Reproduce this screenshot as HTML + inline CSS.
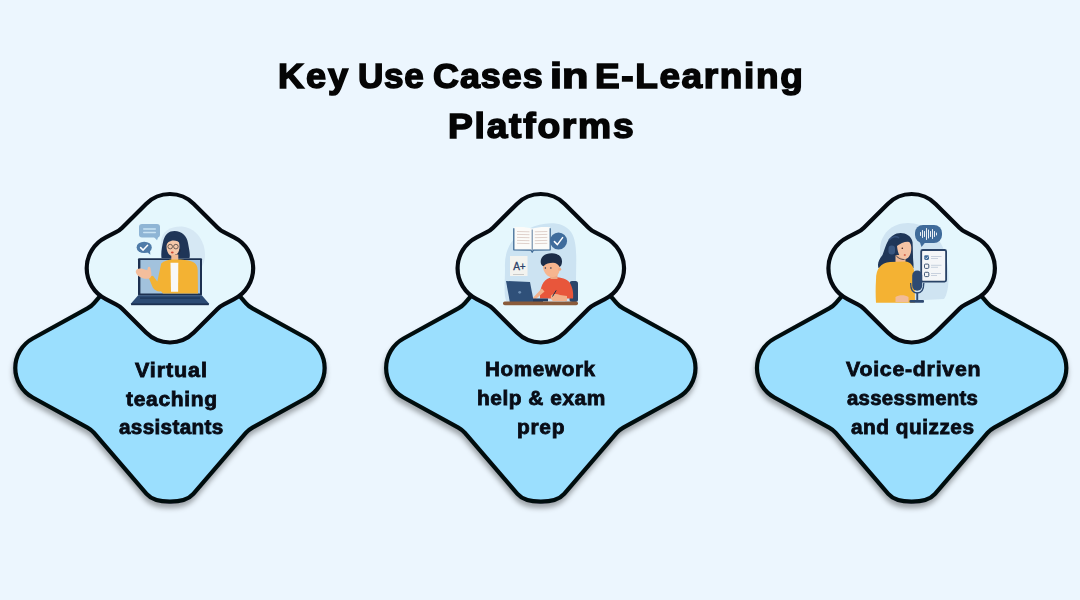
<!DOCTYPE html>
<html><head><meta charset="utf-8"><style>
html,body{margin:0;padding:0;}
body{width:1080px;height:600px;background:#ECF6FE;position:relative;overflow:hidden;font-family:"Liberation Sans",sans-serif;}
svg{position:absolute;left:0;top:0;}
.tx{position:absolute;font-weight:bold;line-height:1;white-space:nowrap;transform-origin:0 0;}
</style></head><body>
<svg width="1080" height="600" viewBox="0 0 1080 600">
<defs><filter id="sh" x="-20%" y="-20%" width="140%" height="150%"><feDropShadow dx="-0.5" dy="4.5" stdDeviation="2.6" flood-color="#000" flood-opacity="0.33"/></filter></defs>
<path d="M193.34,242.13 L245.82,303.01 A24.00,24.00 0 0 0 252.43,308.37 L307.17,338.47 A33.70,33.70 0 0 1 307.17,397.53 L252.43,427.63 A24.00,24.00 0 0 0 245.82,432.99 L193.34,493.87 C184.45,504.18 155.45,504.18 146.56,493.87 L94.08,432.99 A24.00,24.00 0 0 0 87.47,427.63 L32.73,397.53 A33.70,33.70 0 0 1 32.73,338.47 L87.47,308.37 A24.00,24.00 0 0 0 94.08,303.01 L146.56,242.13 C155.45,231.82 184.45,231.82 193.34,242.13 Z" fill="#9BDFFE" stroke="#050A10" stroke-width="4.2" filter="url(#sh)"/>
<path d="M193.85,203.90 L217.70,227.75 A24.00,24.00 0 0 0 223.93,232.24 L234.06,237.30 A34.60,34.60 0 0 1 234.06,299.20 L223.93,304.26 A24.00,24.00 0 0 0 217.70,308.75 L193.85,332.60 A33.80,33.80 0 0 1 146.05,332.60 L122.20,308.75 A24.00,24.00 0 0 0 115.97,304.26 L105.84,299.20 A34.60,34.60 0 0 1 105.84,237.30 L115.97,232.24 A24.00,24.00 0 0 0 122.20,227.75 L146.05,203.90 A33.80,33.80 0 0 1 193.85,203.90 Z" fill="#E5F7FD" stroke="#050A10" stroke-width="4.2"/>
<path d="M564.19,242.13 L616.67,303.01 A24.00,24.00 0 0 0 623.28,308.37 L678.02,338.47 A33.70,33.70 0 0 1 678.02,397.53 L623.28,427.63 A24.00,24.00 0 0 0 616.67,432.99 L564.19,493.87 C555.30,504.18 526.30,504.18 517.41,493.87 L464.93,432.99 A24.00,24.00 0 0 0 458.32,427.63 L403.58,397.53 A33.70,33.70 0 0 1 403.58,338.47 L458.32,308.37 A24.00,24.00 0 0 0 464.93,303.01 L517.41,242.13 C526.30,231.82 555.30,231.82 564.19,242.13 Z" fill="#9BDFFE" stroke="#050A10" stroke-width="4.2" filter="url(#sh)"/>
<path d="M564.70,203.90 L588.55,227.75 A24.00,24.00 0 0 0 594.78,232.24 L604.91,237.30 A34.60,34.60 0 0 1 604.91,299.20 L594.78,304.26 A24.00,24.00 0 0 0 588.55,308.75 L564.70,332.60 A33.80,33.80 0 0 1 516.90,332.60 L493.05,308.75 A24.00,24.00 0 0 0 486.82,304.26 L476.69,299.20 A34.60,34.60 0 0 1 476.69,237.30 L486.82,232.24 A24.00,24.00 0 0 0 493.05,227.75 L516.90,203.90 A33.80,33.80 0 0 1 564.70,203.90 Z" fill="#E5F7FD" stroke="#050A10" stroke-width="4.2"/>
<path d="M935.04,242.13 L987.52,303.01 A24.00,24.00 0 0 0 994.13,308.37 L1048.87,338.47 A33.70,33.70 0 0 1 1048.87,397.53 L994.13,427.63 A24.00,24.00 0 0 0 987.52,432.99 L935.04,493.87 C926.15,504.18 897.15,504.18 888.26,493.87 L835.78,432.99 A24.00,24.00 0 0 0 829.17,427.63 L774.43,397.53 A33.70,33.70 0 0 1 774.43,338.47 L829.17,308.37 A24.00,24.00 0 0 0 835.78,303.01 L888.26,242.13 C897.15,231.82 926.15,231.82 935.04,242.13 Z" fill="#9BDFFE" stroke="#050A10" stroke-width="4.2" filter="url(#sh)"/>
<path d="M935.55,203.90 L959.40,227.75 A24.00,24.00 0 0 0 965.63,232.24 L975.76,237.30 A34.60,34.60 0 0 1 975.76,299.20 L965.63,304.26 A24.00,24.00 0 0 0 959.40,308.75 L935.55,332.60 A33.80,33.80 0 0 1 887.75,332.60 L863.90,308.75 A24.00,24.00 0 0 0 857.67,304.26 L847.54,299.20 A34.60,34.60 0 0 1 847.54,237.30 L857.67,232.24 A24.00,24.00 0 0 0 863.90,227.75 L887.75,203.90 A33.80,33.80 0 0 1 935.55,203.90 Z" fill="#E5F7FD" stroke="#050A10" stroke-width="4.2"/>


<g id="ill1">
<path d="M161,241 C162,231 171,226 182,226.5 C193,227.5 200,235 203.5,245 C206.5,255 205,265 199,270 L168,270 C162,264 160,252 161,241Z" fill="#D6E8F4"/>
<rect x="139" y="224" width="21" height="13.5" rx="3" fill="#8FB5D5"/>
<path d="M153.5,236.5 L157,240.2 L158.5,236.5Z" fill="#8FB5D5"/>
<rect x="143" y="228.2" width="13" height="1.5" rx="0.7" fill="#C9E3F4"/>
<rect x="143" y="231.7" width="13" height="1.5" rx="0.7" fill="#C9E3F4"/>
<ellipse cx="144.2" cy="247.4" rx="7.6" ry="5.7" fill="#4F7BA8"/>
<path d="M146.5,251.5 L150.3,254.8 L150,249.5Z" fill="#4F7BA8"/>
<path d="M140.6,247.6 L143.1,250.1 L147.6,245.2" stroke="#fff" stroke-width="1.5" fill="none" stroke-linecap="round" stroke-linejoin="round"/>
<path d="M174.5,231 C182,231 187,236 188,243 C189,249 190.5,254 189.5,258 L161.5,258 C160.8,253 162,246 163.5,240 C165.5,234 169,231 174.5,231Z" fill="#1F3557"/>
<path d="M166.5,246 C166.5,240 169.5,238 173,238 C177,238 179.5,241 179.5,246.5 C179.5,252.5 176.5,256 172.8,256 C169,256 166.5,252 166.5,246Z" fill="#F6C8A9"/>
<path d="M165.5,247 C165,240 169,236.5 174,236.5 C178,236.5 180.5,239 181,243.5 C177.5,240 172,239.5 168.5,242 C167,243.5 166,245.5 165.5,247Z" fill="#1F3557"/>
<circle cx="170.2" cy="246.6" r="2.3" fill="none" stroke="#3A3434" stroke-width="0.7"/>
<circle cx="175.9" cy="246.6" r="2.3" fill="none" stroke="#3A3434" stroke-width="0.7"/>
<ellipse cx="172.3" cy="252.5" rx="1.4" ry="0.9" fill="#D04A32"/>
<path d="M180,249 C180.5,252.5 178.5,254.5 175,254.8" stroke="#1F2A3F" stroke-width="0.8" fill="none"/>
<rect x="138" y="258.2" width="64" height="37.4" rx="1" fill="#1C3050"/>
<rect x="140.4" y="260" width="59.6" height="33.5" fill="#A2C2DD"/>
<rect x="171.3" y="254.5" width="7" height="7" fill="#F1B993"/>
<path d="M148.3,276.8 L153,275.8 L157.3,281.5 L161.2,263.5 C164,261 168,259.9 171,259.6 L178.5,259.6 C184,259.8 190,260.5 193,262 C196,263.5 197.5,266 197.7,270 L198,293.5 L163,293.5 L161,291.3 C157.5,291.8 154.5,290.3 152.8,287.5Z" fill="#F3B233"/>
<path d="M135.8,271 C136.8,268.5 140,268 143,269 L147.3,270.3 L147.9,267.6 C148.4,266.4 150,266.6 150.4,268 L151.3,272.5 C151.8,275 151.2,277.5 149.2,278.5 C146,279.5 141,278.2 138,275.7 C136.5,274.2 135.5,272.5 135.8,271Z" fill="#F4BE9C"/>
<path d="M170.5,262.8 L178.3,262.8 L178.1,291.7 L171,291.7Z" fill="#F8F8F8"/>
<path d="M138.2,295.3 L201.8,295.3 L208.7,303.3 L208.7,305.1 L131.2,305.1 L131.2,303.3Z" fill="#2C4B74"/>
<rect x="131.2" y="303.4" width="77.5" height="1.8" fill="#1C3050"/>
<rect x="140" y="297.3" width="60" height="1.6" fill="#203A5E"/>
</g>

<g id="ill2">
<path d="M505,268 C504,250 512,236 528,229 C543,222 562,220 571,232 C578,242 576,262 576,280 C576,292 575,302 570,303 L508,303 C503,300 505,285 505,268Z" fill="#CCE3F2"/>
<path d="M514,227.3 C520,226.6 527,227 532.2,228.6 C537,227 545,226.6 550,227.3 L550,249.8 L514,249.8Z" fill="#FBFBF9"/>
<g stroke="#D6C3BC" stroke-width="0.75" fill="none">
<path d="M517,231.5 L529.5,231.8 M517,234.4 L529.5,234.7 M517,237.4 L529.5,237.7 M517,240.4 L529.5,240.7 M517,243.3 L529.5,243.6"/>
<path d="M534.8,231.8 L547.3,231.5 M534.8,234.7 L547.3,234.4 M534.8,237.7 L547.3,237.4 M534.8,240.7 L547.3,240.4 M534.8,243.6 L547.3,243.3"/>
</g>
<path d="M513.8,228.2 L513.8,249.8 L531,250.2 L532.2,252.3 L533.4,250.2 L550.2,249.8 L550.2,228.2" stroke="#3F6A95" stroke-width="1.3" fill="none" stroke-linejoin="round"/>
<path d="M532.2,229.5 L532.2,250.5" stroke="#4A6E95" stroke-width="0.9"/>
<circle cx="558.5" cy="241" r="8.6" fill="#3F6C9C"/>
<path d="M554.4,241.6 L557.4,244.6 L562.6,237.6" stroke="#fff" stroke-width="1.5" fill="none" stroke-linecap="round" stroke-linejoin="round"/>
<rect x="510" y="256" width="17.5" height="20" fill="#F3F3EF"/>
<text x="513.2" y="270" font-family="Liberation Sans" font-size="10" fill="#2B4068" stroke="#2B4068" stroke-width="0.3">A+</text>
<rect x="513" y="274" width="11" height="0.7" fill="#B9B9B9"/>
<rect x="569.5" y="281" width="8.5" height="21" rx="2.5" fill="#2B466B"/>
<path d="M540,298.5 C539.5,288 543,279.5 550,277.8 C556,276.6 566,277.5 570,283 C573,288 573.5,294 573,298.5Z" fill="#E8563B"/>
<path d="M541.8,288.5 L544.5,291.5 L535.5,299.2 L532.8,298Z" fill="#F2B08A"/>
<path d="M551,295.5 C553,293.8 557,293.6 560,295 L567,296 L567,301 L553,301 C551,300 550.5,297.5 551,295.5Z" fill="#F2B08A"/>
<rect x="550.5" y="274" width="7" height="5" fill="#EFA883"/>
<path d="M543,266.5 C543,262.5 547,261.5 552,261.5 C557,261.5 559.8,263.5 559.8,268 C559.8,273 557,277.3 552,277.3 C547,277.3 543,271.5 543,266.5Z" fill="#F6B58F"/>
<circle cx="559.6" cy="269.2" r="1.6" fill="#F2AA82"/>
<path d="M540.8,263 C540,257 545,253 552,253.2 C558,253.4 562.5,256.5 562,262 C561.8,264.5 561,266.5 559.5,267 C558.5,264.5 556,262.8 553,262.8 C549,262.8 546,263.3 543.5,266.3 C542,265.7 541,264.5 540.8,263Z" fill="#1C2D48"/>
<circle cx="545.4" cy="268.1" r="0.75" fill="#1C2D48"/>
<circle cx="550.9" cy="268.1" r="0.75" fill="#1C2D48"/>
<path d="M506,281 L530,282 L534,303 L510,303Z" fill="#2F5079"/>
<circle cx="519.7" cy="292.3" r="1.4" fill="#6C8DB3"/>
<rect x="533" y="298.5" width="15" height="4.5" fill="#233D61"/>
<rect x="543" y="301.5" width="22" height="2.5" fill="#FFFFFF"/>
<path d="M552.5,296.5 L556.2,290.4" stroke="#1C2D48" stroke-width="1"/>
<rect x="503" y="301.5" width="75" height="3.8" rx="1.8" fill="#8A5B3B"/>
</g>

<g id="ill3">
<path d="M880,250 C880,234 892,223 908,223 C925,223 938,235 944,250 C950,268 950,290 944,299 L886,302 C880,290 880,265 880,250Z" fill="#CFE4F2"/>
<rect x="915" y="225" width="27" height="18" rx="8" fill="#3F6B9A"/>
<path d="M919.5,241 L921.5,247 L926,241.5Z" fill="#3F6B9A"/>
<g stroke="#FFFFFF" stroke-width="0.9" stroke-linecap="round">
<path d="M920.5,232.5 L920.5,235.5 M922.5,230.5 L922.5,237.5 M924.5,231.5 L924.5,236.5 M926.5,228.5 L926.5,239.5 M928.5,230 L928.5,238 M930.5,231.5 L930.5,236.5 M932.5,229.5 L932.5,238.5 M934.5,231.5 L934.5,236.5 M936.5,233 L936.5,235"/>
</g>
<path d="M900.7,233 C906,233 911,236 912.3,241 C913.3,247 912.5,256 913.5,264 L913.5,268 L878.5,268 C877,264 879,259 882.5,255 C884.5,250 885.5,245 888,241 C891,236 895,233 900.7,233Z" fill="#1F3658"/>
<path d="M889,240 C892,236 897,236 899,238" stroke="#35507A" stroke-width="1.6" fill="none"/><rect x="888.5" y="245.5" width="6.5" height="9" rx="3" fill="#3A5780"/>
<rect x="895.5" y="255" width="10" height="10" fill="#F1B993"/><path d="M897,246 C896.5,241 900,239.5 904,240 C909,240.5 911.3,243 911.3,248 C911.3,254 909,259 904.5,259.3 C900.5,259.5 897.5,253 897,246Z" fill="#F5C3A4"/>
<path d="M895.5,247 C896.5,239.5 902,236.5 907,237 C910,237.5 912,240 912.5,243.5 C909,240.5 903,241 895.5,247Z" fill="#1F3658"/>
<circle cx="902.3" cy="248.3" r="0.8" fill="#3A1F1F"/>
<ellipse cx="904.8" cy="255" rx="1.1" ry="0.7" fill="#C8432F"/>
<path d="M895,254 C897,258 901,259.5 904.5,259.5" stroke="#1F2A3F" stroke-width="0.8" fill="none"/>
<path d="M876,280 C876,268 881,263 890,262 L905,261.5 C911,262 914,266 914.5,274 L915,302.7 L876,302.7 C875.5,295 875.5,288 876,280Z" fill="#F4B233"/>
<path d="M895.5,297 C899,294.5 905,294.5 908.5,297 L908.5,302 L895.5,302Z" fill="#F2BC98"/>
<rect x="921.2" y="250" width="24.9" height="31.6" rx="1.5" fill="#F4F6F8" stroke="#2A4366" stroke-width="1.8"/>
<rect x="924.2" y="255.3" width="4.8" height="4.6" rx="1.3" fill="#3F6B9A"/>
<path d="M925.2,257.6 L926.4,258.8 L928.2,256.5" stroke="#fff" stroke-width="0.7" fill="none"/>
<rect x="924.5" y="264.1" width="4.3" height="4.3" rx="1" fill="none" stroke="#2A4366" stroke-width="0.9"/>
<rect x="924.5" y="272.3" width="4.3" height="4.3" rx="1" fill="none" stroke="#2A4366" stroke-width="0.9"/>
<g stroke="#B4C2D2" stroke-width="0.7">
<path d="M931,256.5 L941.5,256.5 M931,258.5 L938,258.5 M931,265.3 L941.5,265.3 M931,267.3 L938,267.3 M931,273.5 L941,273.5 M931,275.5 L937,275.5"/>
</g>
<path d="M910.6,283 C910.6,290 913,293 917.2,293 C921.4,293 923.8,290 923.8,283" stroke="#2E4A72" stroke-width="1.3" fill="none"/>
<rect x="912.2" y="270.6" width="10" height="20.2" rx="5" fill="#2E4A72"/>
<rect x="916.3" y="292.5" width="1.9" height="8" fill="#2E4A72"/>
<rect x="909.5" y="300" width="14.5" height="2.8" rx="1" fill="#2E4A72"/>
</g>

</svg>
<div class="tx" style="left:278.40px;top:59.10px;font-size:34.5px;letter-spacing:1.775px;-webkit-text-stroke:1.5px #050505;color:#050505;transform:scaleX(1.05)">Key</div>
<div class="tx" style="left:357.90px;top:59.10px;font-size:34.5px;letter-spacing:0.675px;-webkit-text-stroke:1.5px #050505;color:#050505;transform:scaleX(1.0176)">Use</div>
<div class="tx" style="left:433.40px;top:59.10px;font-size:34.5px;letter-spacing:0.963px;-webkit-text-stroke:1.5px #050505;color:#050505;transform:scaleX(1.0395)">Cases</div>
<div class="tx" style="left:550.30px;top:59.10px;font-size:34.5px;letter-spacing:0px;-webkit-text-stroke:1.5px #050505;color:#050505;transform:scaleX(1.2534)">in</div>
<div class="tx" style="left:595.10px;top:59.10px;font-size:34.5px;letter-spacing:1.528px;-webkit-text-stroke:1.5px #050505;color:#050505;transform:scaleX(1.0711)">E-Learning</div>
<div class="tx" style="left:448.00px;top:109.30px;font-size:34.5px;letter-spacing:1.612px;-webkit-text-stroke:1.5px #050505;color:#050505;transform:scaleX(1.0793)">Platforms</div>
<div class="tx" style="left:135.20px;top:359.97px;font-size:20px;letter-spacing:0.833px;-webkit-text-stroke:0.8px #080C16;color:#080C16;transform:scaleX(1.0758)">Virtual</div>
<div class="tx" style="left:125.60px;top:388.67px;font-size:20px;letter-spacing:0.671px;-webkit-text-stroke:0.8px #080C16;color:#080C16;transform:scaleX(1.0489)">teaching</div>
<div class="tx" style="left:118.90px;top:417.47px;font-size:20px;letter-spacing:0.322px;-webkit-text-stroke:0.8px #080C16;color:#080C16;transform:scaleX(1.034)">assistants</div>
<div class="tx" style="left:484.60px;top:359.47px;font-size:20px;letter-spacing:0.629px;-webkit-text-stroke:0.8px #080C16;color:#080C16;transform:scaleX(1.032)">Homework</div>
<div class="tx" style="left:476.80px;top:387.97px;font-size:20px;letter-spacing:0.505px;-webkit-text-stroke:0.8px #080C16;color:#080C16;transform:scaleX(1.0437)">help &amp; exam</div>
<div class="tx" style="left:516.50px;top:416.67px;font-size:20px;letter-spacing:0.667px;-webkit-text-stroke:0.8px #080C16;color:#080C16;transform:scaleX(1.0455)">prep</div>
<div class="tx" style="left:846.00px;top:359.27px;font-size:20px;letter-spacing:0.714px;-webkit-text-stroke:0.8px #080C16;color:#080C16;transform:scaleX(1.0643)">Voice-driven</div>
<div class="tx" style="left:847.20px;top:388.27px;font-size:20px;letter-spacing:0.275px;-webkit-text-stroke:0.8px #080C16;color:#080C16;transform:scaleX(1.0195)">assessments</div>
<div class="tx" style="left:851.20px;top:416.97px;font-size:20px;letter-spacing:0.495px;-webkit-text-stroke:0.8px #080C16;color:#080C16;transform:scaleX(1.0399)">and quizzes</div>
</body></html>
